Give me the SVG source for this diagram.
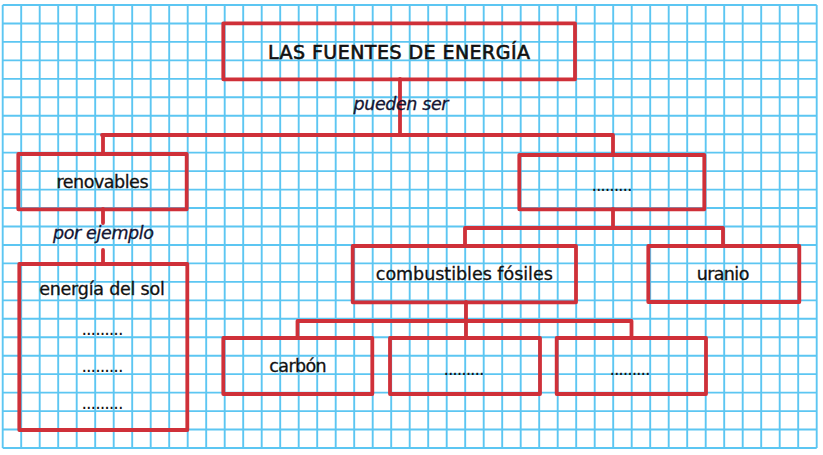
<svg xmlns="http://www.w3.org/2000/svg" width="823" height="455" viewBox="0 0 823 455">
<style>
.grid{stroke:#5cc6f2;stroke-width:1.9;fill:none}
.box{fill:none;stroke:#cf3039;stroke-width:3.8;stroke-linejoin:round}
.con{fill:none;stroke:#cf3039;stroke-width:3.8;stroke-linecap:round;stroke-linejoin:round}
.t{font-family:"DejaVu Sans","Liberation Sans",sans-serif;font-size:17.5px;fill:#111;stroke:#111;stroke-width:0.3;text-anchor:middle}
.title{font-size:19px;stroke-width:0.6}
.i{font-style:italic;fill:#141432;stroke:#141432}
.d{stroke-width:0}
</style>
<rect x="0" y="0" width="823" height="455" fill="#ffffff"/>
<g id="grid">
<path class="grid" d="M2.7 5V448M21.2 5V448M39.7 5V448M58.2 5V448M76.7 5V448M95.2 5V448M113.7 5V448M132.2 5V448M150.7 5V448M169.2 5V448M187.7 5V448M206.2 5V448M224.7 5V448M243.2 5V448M261.7 5V448M280.2 5V448M298.7 5V448M317.2 5V448M335.7 5V448M354.2 5V448M372.7 5V448M391.2 5V448M409.7 5V448M428.2 5V448M446.7 5V448M465.2 5V448M483.7 5V448M502.2 5V448M520.7 5V448M539.2 5V448M557.7 5V448M576.2 5V448M594.7 5V448M613.2 5V448M631.7 5V448M650.2 5V448M668.7 5V448M687.2 5V448M705.7 5V448M724.2 5V448M742.7 5V448M761.2 5V448M779.7 5V448M798.2 5V448M816.7 5V448"/>
<path class="grid" d="M2.7 5H816.7M2.7 23.46H816.7M2.7 41.92H816.7M2.7 60.37H816.7M2.7 78.83H816.7M2.7 97.29H816.7M2.7 115.75H816.7M2.7 134.21H816.7M2.7 152.67H816.7M2.7 171.12H816.7M2.7 189.58H816.7M2.7 208.04H816.7M2.7 226.5H816.7M2.7 244.96H816.7M2.7 263.41H816.7M2.7 281.87H816.7M2.7 300.33H816.7M2.7 318.79H816.7M2.7 337.25H816.7M2.7 355.7H816.7M2.7 374.16H816.7M2.7 392.62H816.7M2.7 411.08H816.7M2.7 429.54H816.7M2.7 448H816.7"/>
</g>
<g id="connectors">
<path class="con" d="M400 79V135M102 135H613M103 135V154M613 135V155"/>
<path class="con" d="M103 209V223M103 250V264"/>
<path class="con" d="M613 209V228M465 228H723M465 228V246M723 228V246"/>
<path class="con" d="M466 302V321M297.5 321H631.5M297.5 321V338M466 321V338M631.5 321V338"/>
</g>
<g id="label-pueden-ser"><text class="t i" x="401" y="110" textLength="95">pueden ser</text></g>
<g id="label-por-ejemplo"><text class="t i" x="103.5" y="239" textLength="101">por ejemplo</text></g>
<g id="node-title">
<rect class="box" x="223.3" y="23.3" width="351.7" height="56"/>
<text class="t title" x="399" y="59" textLength="262">LAS FUENTES DE ENERGÍA</text>
</g>
<g id="node-renovables">
<rect class="box" x="18.3" y="154" width="168.4" height="55.3"/>
<text class="t" x="102.5" y="188" textLength="92">renovables</text>
</g>
<g id="node-ejemplos">
<rect class="box" x="19.3" y="264" width="168" height="166"/>
<text class="t" x="102" y="295" textLength="125.7">energía del sol</text>
<text class="t d" x="102.5" y="335" textLength="42">.........</text>
<text class="t d" x="102.5" y="372" textLength="42">.........</text>
<text class="t d" x="102.5" y="409" textLength="42">.........</text>
</g>
<g id="node-no-renovables">
<rect class="box" x="519.3" y="155" width="185" height="54.3"/>
<text class="t d" x="612" y="191" textLength="41">.........</text>
</g>
<g id="node-combustibles">
<rect class="box" x="352.7" y="246" width="223.3" height="56.3"/>
<text class="t" x="464.3" y="280" textLength="177">combustibles fósiles</text>
</g>
<g id="node-uranio">
<rect class="box" x="648.3" y="246" width="151" height="56"/>
<text class="t" x="723" y="280" textLength="52.7">uranio</text>
</g>
<g id="node-carbon">
<rect class="box" x="223.3" y="338" width="149" height="56"/>
<text class="t" x="298" y="372" textLength="57.3">carbón</text>
</g>
<g id="node-fosil-2">
<rect class="box" x="390" y="338" width="150" height="56"/>
<text class="t d" x="464" y="375" textLength="41">.........</text>
</g>
<g id="node-fosil-3">
<rect class="box" x="556.7" y="338" width="149.3" height="56"/>
<text class="t d" x="630" y="375" textLength="41">.........</text>
</g>
</svg>
